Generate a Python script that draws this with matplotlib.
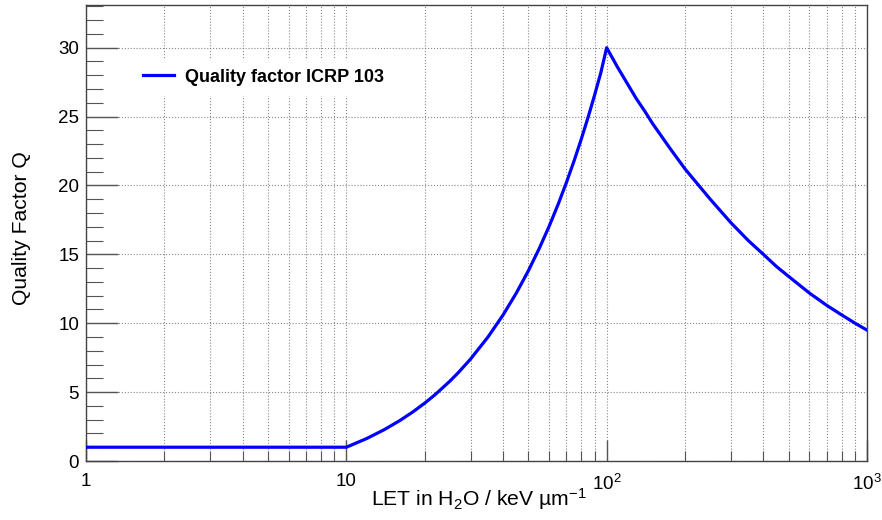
import matplotlib.pyplot as plt
from matplotlib.ticker import LogLocator, FixedLocator, MultipleLocator, FixedFormatter

plt.rcParams['font.family'] = ['Liberation Sans', 'DejaVu Sans']
plt.rcParams['mathtext.fontset'] = 'custom'
plt.rcParams['mathtext.rm'] = 'Liberation Sans'
plt.rcParams['mathtext.it'] = 'Liberation Sans:italic'
plt.rcParams['mathtext.bf'] = 'Liberation Sans:bold'
plt.rcParams['mathtext.default'] = 'regular'

# LET in water (keV/um) and the ICRP 103 quality factor
let_vals = [1, 2, 5, 10, 12, 14, 16, 18, 20, 22, 25, 27, 30, 35, 40, 45, 50, 55, 60, 65, 70,
            75, 80, 85, 90, 95, 100, 110, 120, 130, 140, 150, 175, 200, 250, 300, 350, 400,
            450, 500, 600, 700, 800, 900, 1000]
q_vals = [1.0, 1.0, 1.0, 1.0, 1.64, 2.28, 2.92, 3.56, 4.2, 4.84, 5.8, 6.44, 7.4, 9.0, 10.6,
          12.2, 13.8, 15.4, 17.0, 18.6, 20.2, 21.8, 23.4, 25.0, 26.6, 28.2, 30.0, 28.6, 27.4,
          26.3, 25.4, 24.5, 22.7, 21.2, 19.0, 17.3, 16.0, 15.0, 14.1, 13.4, 12.2, 11.3, 10.6,
          10.0, 9.5]

x_major = [1, 10, 100, 1000]
x_major_labels = ['1', '10', '$10^{2}$', '$10^{3}$']

fig = plt.figure(figsize=(8.82, 5.2), dpi=100)
ax = fig.add_axes([86 / 882, 59 / 520, 781 / 882, 456 / 520])

ax.plot(let_vals, q_vals, color='#0000ff', lw=2.3, label='Quality factor ICRP 103', zorder=3)

ax.set_xscale('log')
ax.set_xlim(1, 1000)
ax.set_ylim(0, 33.1)

ax.xaxis.set_major_locator(FixedLocator(x_major))
ax.xaxis.set_major_formatter(FixedFormatter(x_major_labels))
ax.xaxis.set_minor_locator(LogLocator(base=10, subs=range(2, 10)))
ax.xaxis.set_minor_formatter(FixedFormatter([]))
ax.yaxis.set_major_locator(MultipleLocator(5))
ax.yaxis.set_minor_locator(MultipleLocator(1))

ax.tick_params(axis='both', which='both', direction='in', top=False, right=False,
               labelsize=13.5, color='#555555')
ax.tick_params(axis='y', which='major', length=23, width=1.0, pad=5)
ax.tick_params(axis='y', which='minor', length=12, width=0.8)
ax.tick_params(axis='x', which='major', length=15, width=1.0, pad=9)
ax.tick_params(axis='x', which='minor', length=7, width=0.8)

ax.grid(True, which='major', axis='y', linestyle=':', color='#888888', lw=0.8)
ax.grid(True, which='both', axis='x', linestyle=':', color='#888888', lw=0.8)

for s in ax.spines.values():
    s.set_color('#444444')
    s.set_linewidth(1.0)

ax.set_xlabel('LET in H$_2$O / keV µm$^{-1}$', fontsize=15.2, ha='center', va='center')
ax.set_ylabel('Quality Factor Q', fontsize=15.2, ha='center', va='center')
ax.xaxis.set_label_coords((479 - 86) / 781, -(499 - 461) / 456)
ax.yaxis.set_label_coords(-(86 - 22) / 781, (461 - 228) / 456)

leg = ax.legend(loc='center left', bbox_to_anchor=(0.05, (461 - 77) / 456), frameon=True,
                fancybox=False, edgecolor='white', framealpha=1.0,
                prop={'weight': 'bold', 'size': 13}, handlelength=1.7, handletextpad=0.6,
                borderpad=0.5)

fig.savefig('out.png', dpi=100)
